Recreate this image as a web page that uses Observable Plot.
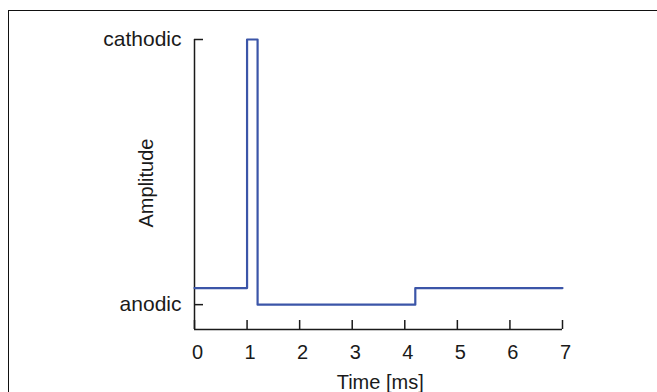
<!DOCTYPE html>
<html>
<head>
<meta charset="utf-8">
<script src="https://cdn.jsdelivr.net/npm/d3@7"></script>
<script src="https://cdn.jsdelivr.net/npm/@observablehq/plot@0.6"></script>
<style>
  html, body { margin: 0; padding: 0; background: #fff; overflow: hidden; }
  #wrap { position: relative; width: 657px; height: 392px; }
  #frame { position: absolute; left: 8px; top: 10px; width: 700px; height: 500px;
           border-top: 1.3px solid #111; border-left: 1.3px solid #111; box-sizing: border-box; }
  #chart { position: absolute; left: 0; top: 0; }
</style>
</head>
<body>
<div id="wrap"><div id="frame"></div><div id="chart"></div></div>
<script>
// Pulse waveform (step-after): time in ms, amplitude in relative units
const times = [0, 1, 1.2, 4.2, 7];
const amps = [0, 15, -1, 0, 0];
const xTicks = [0, 1, 2, 3, 4, 5, 6, 7];
const yTicks = [-1, 15];
const yTickLabels = ["anodic", "cathodic"];
const xDomain = [0, 7];
const yDomain = [-2.5, 15];
const xLabel = "Time [ms]";
const yLabel = "Amplitude";

const data = times.map((t, i) => ({t, a: amps[i]}));
const W = 657, H = 392, mL = 194, mR = 95, mT = 39, mB = 63;
const innerW = W - mL - mR, innerH = H - mT - mB;
const ink = "#1a1a1a";
const font = "'Liberation Sans', Arial, Helvetica, sans-serif";

const chart = Plot.plot({
  width: W, height: H,
  marginLeft: mL, marginRight: mR, marginTop: mT, marginBottom: mB,
  style: {fontFamily: font, color: ink, background: "transparent", overflow: "visible"},
  x: {domain: xDomain},
  y: {domain: yDomain},
  marks: [
    Plot.axisX({ticks: xTicks, tickSize: 0, tickPadding: 15, dx: 3, label: null,
                tickFormat: d3.format("d"),
                fontSize: 20, fill: ink}),
    Plot.axisY({ticks: yTicks, tickSize: 0, tickPadding: 13, label: null,
                tickFormat: d => yTickLabels[yTicks.indexOf(d)],
                fontSize: 21, fill: ink}),
    Plot.ruleX([xDomain[0]], {stroke: ink, strokeWidth: 1.5}),
    Plot.ruleY([yDomain[0]], {stroke: ink, strokeWidth: 1.5}),
    Plot.tickX(xTicks, {x: d => d, insetTop: innerH - 9, stroke: ink, strokeWidth: 1.5}),
    Plot.tickY(yTicks, {y: d => d, insetRight: innerW - 9, stroke: ink, strokeWidth: 1.5}),
    Plot.line(data, {x: "t", y: "a", curve: "step-after", stroke: "#3b55a8", strokeWidth: 2.2}),
    Plot.text([xLabel], {frameAnchor: "bottom", textAnchor: "middle", lineAnchor: "middle",
                         dy: 52.6, dx: 1.7, fontSize: 20, fill: ink}),
    Plot.text([yLabel], {frameAnchor: "left", textAnchor: "middle", lineAnchor: "middle",
                         rotate: -90, dx: -48, dy: -1.5, fontSize: 20, fill: ink})
  ]
});
document.getElementById("chart").appendChild(chart);
</script>
</body>
</html>
